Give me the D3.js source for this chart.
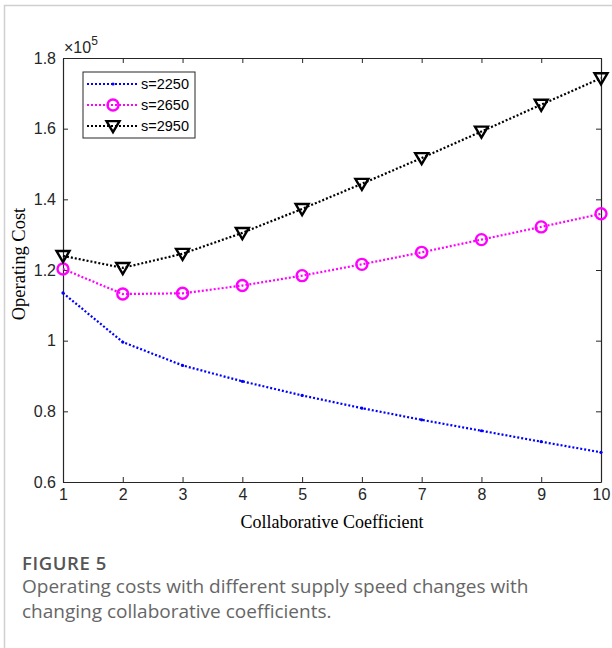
<!DOCTYPE html>
<html>
<head>
<meta charset="utf-8">
<script src="https://cdn.jsdelivr.net/npm/d3@7"></script>
<style>
  body { margin: 0; background: #fff; }
  svg { display: block; }
</style>
</head>
<body>
<script>
// collaborative coefficient values on the x axis
var coefficients = [1, 2, 3, 4, 5, 6, 7, 8, 9, 10];

// operating cost (in units, axis shows x10^5)
var costS2250 = [113500, 99600, 93000, 88500, 84500, 80900, 77600, 74500, 71400, 68400];
var costS2650 = [120300, 113200, 113400, 115600, 118400, 121600, 125000, 128600, 132200, 135900];
var costS2950 = [124000, 120600, 124600, 130500, 137300, 144400, 151700, 159200, 166800, 174300];

var seriesNames = ["s=2250", "s=2650", "s=2950"];
var yTicks = [60000, 80000, 100000, 120000, 140000, 160000, 180000];

var series = [
  { name: seriesNames[0], values: costS2250, color: "#0000ff", marker: "dot" },
  { name: seriesNames[1], values: costS2650, color: "#ff00ff", marker: "circle" },
  { name: seriesNames[2], values: costS2950, color: "#000000", marker: "triangle" }
];

var W = 612, H = 648;
var margin = { top: 58, right: 11, bottom: 166, left: 63 };
var width = W - margin.left - margin.right,
    height = H - margin.top - margin.bottom;

var svg = d3.select("body").append("svg")
  .attr("width", W)
  .attr("height", H);

// light frame round the figure
svg.append("path")
  .attr("d", "M4.5," + H + " V5.5 H" + W)
  .attr("fill", "none")
  .attr("stroke", "#d0d0d0")
  .attr("stroke-width", 1.5);

var g = svg.append("g")
  .attr("transform", "translate(" + margin.left + "," + margin.top + ")");

var x = d3.scaleLinear().domain([1, 10]).range([0, width]);
var y = d3.scaleLinear().domain([60000, 180000]).range([height, 0]);

var axisColor = "#262626";
var fmtY = function (d) { return String(+(d / 1e5).toFixed(1)); };

function styleAxis(sel) {
  sel.select(".domain").attr("stroke", axisColor).attr("stroke-width", 1.2);
  sel.selectAll(".tick line").attr("stroke", axisColor).attr("stroke-width", 1);
  sel.selectAll(".tick text")
    .attr("fill", axisColor)
    .style("font-family", "'Liberation Sans', Arial, sans-serif")
    .style("font-size", "16px");
}

// bottom axis
g.append("g")
  .attr("transform", "translate(0," + height + ")")
  .call(d3.axisBottom(x).tickValues(coefficients).tickFormat(d3.format("d"))
    .tickSizeInner(-5).tickSizeOuter(0).tickPadding(7))
  .call(styleAxis);

// top axis (ticks only)
g.append("g")
  .call(d3.axisTop(x).tickValues(coefficients).tickFormat("")
    .tickSizeInner(-5).tickSizeOuter(0))
  .call(styleAxis);

// left axis
g.append("g")
  .call(d3.axisLeft(y).tickValues(yTicks).tickFormat(fmtY)
    .tickSizeInner(-5).tickSizeOuter(0).tickPadding(7))
  .call(styleAxis);

// right axis (ticks only)
g.append("g")
  .attr("transform", "translate(" + width + ",0)")
  .call(d3.axisRight(y).tickValues(yTicks).tickFormat("")
    .tickSizeInner(-5).tickSizeOuter(0))
  .call(styleAxis);

// exponent label
var expo = g.append("text")
  .attr("x", 1)
  .attr("y", -5)
  .attr("fill", axisColor)
  .style("font-family", "'Liberation Sans', Arial, sans-serif")
  .style("font-size", "16px");
expo.append("tspan").text("\u00d710");
expo.append("tspan").attr("dy", -8).style("font-size", "12px").text("5");

// axis titles
g.append("text")
  .attr("x", width / 2)
  .attr("y", height + 46)
  .attr("text-anchor", "middle")
  .attr("fill", "#000")
  .style("font-family", "'Liberation Serif', 'Times New Roman', serif")
  .style("font-size", "18px")
  .text("Collaborative Coefficient");

g.append("text")
  .attr("transform", "translate(" + (-38) + "," + (height / 2 - 6) + ") rotate(-90)")
  .attr("text-anchor", "middle")
  .attr("fill", "#000")
  .style("font-family", "'Liberation Serif', 'Times New Roman', serif")
  .style("font-size", "18.5px")
  .text("Operating Cost");

// lines and markers
var line = d3.line()
  .x(function (d, i) { return x(coefficients[i]); })
  .y(function (d) { return y(d); });

function drawMarker(sel, s, cx, cy) {
  if (s.marker === "dot") {
    sel.append("circle").attr("cx", cx).attr("cy", cy).attr("r", 1.6)
      .attr("fill", s.color);
  } else if (s.marker === "circle") {
    sel.append("circle").attr("cx", cx).attr("cy", cy).attr("r", 5.5)
      .attr("fill", "none").attr("stroke", s.color).attr("stroke-width", 2.4);
  } else {
    var r = 6.5;
    sel.append("path")
      .attr("d", "M" + (cx - r) + "," + (cy - r * 0.75) + " L" + (cx + r) + "," + (cy - r * 0.75) +
        " L" + cx + "," + (cy + r * 0.95) + "Z")
      .attr("fill", "none").attr("stroke", s.color).attr("stroke-width", 2.4)
      .attr("stroke-linejoin", "miter");
  }
}

series.forEach(function (s) {
  g.append("path")
    .datum(s.values)
    .attr("d", line)
    .attr("fill", "none")
    .attr("stroke", s.color)
    .attr("stroke-width", 2.2)
    .attr("stroke-dasharray", "2,2");

  var mg = g.append("g");
  s.values.forEach(function (v, i) {
    drawMarker(mg, s, x(coefficients[i]), y(v));
  });
});

// legend
var legend = g.append("g").attr("transform", "translate(20,14)");
legend.append("rect")
  .attr("width", 112)
  .attr("height", 66)
  .attr("fill", "#fff")
  .attr("stroke", axisColor)
  .attr("stroke-width", 1);

series.forEach(function (s, i) {
  var ly = 12 + i * 21;
  legend.append("line")
    .attr("x1", 4).attr("x2", 54)
    .attr("y1", ly).attr("y2", ly)
    .attr("stroke", s.color)
    .attr("stroke-width", 2.2)
    .attr("stroke-dasharray", "2,2");
  drawMarker(legend, s, 30, ly);
  legend.append("text")
    .attr("x", 58)
    .attr("y", ly + 5)
    .attr("fill", "#000")
    .style("font-family", "'Liberation Sans', Arial, sans-serif")
    .style("font-size", "14.5px")
    .text(s.name);
});

// caption
svg.append("text")
  .attr("x", 22)
  .attr("y", 570)
  .attr("fill", "#555")
  .style("font-family", "'Open Sans', 'Noto Sans', sans-serif")
  .style("font-weight", 600)
  .style("font-size", "18.5px")
  .style("letter-spacing", "0.6px")
  .text("FIGURE 5");

var capLines = ["Operating costs with different supply speed changes with",
  "changing collaborative coefficients."];
capLines.forEach(function (t, i) {
  svg.append("text")
    .attr("x", 22)
    .attr("y", 593 + i * 25)
    .attr("fill", "#666")
    .style("font-family", "'Open Sans', 'Noto Sans', sans-serif")
    .style("font-size", "19px")
    .text(t);
});
</script>
</body>
</html>
